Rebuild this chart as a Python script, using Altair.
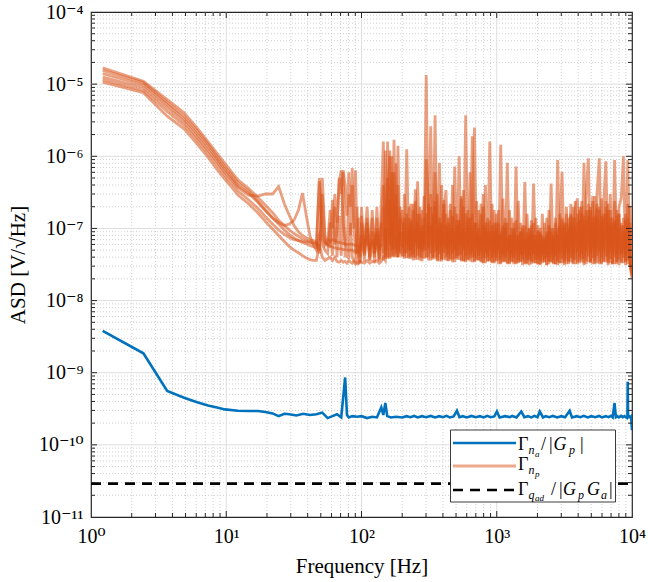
import altair as alt
import pandas as pd

FONT = "Liberation Serif, Times New Roman, DejaVu Serif, serif"
W, H = 541, 505
PL, PT = 91, 12

# ---------------- data ----------------
# frequency grids [Hz]
f_low = [1.22, 2.44, 3.66, 4.88, 6.10, 7.32, 8.54, 9.77, 11.0, 12.2,
         14.6, 17.1, 19.5, 22.0, 24.4, 26.9, 29.3, 31.7, 34.2, 36.6,
         39.1, 41.5, 43.9, 46.4]
f_mid = [48.8, 51.3, 53.7, 56.2, 58.6, 61.0, 63.5, 65.9, 68.4, 70.8,
         73.2, 75.7, 78.1, 80.6, 83.0, 85.4, 87.9, 90.3, 92.8, 95.2,
         97.7, 100, 105, 110, 115, 120, 125, 130, 135, 140,
         145, 150, 156, 162, 168, 174, 180, 186, 193]
f_high = [200, 208, 216, 224, 232, 241, 250, 260, 270, 280,
          290, 301, 313, 325, 337, 350, 363, 377, 391, 406,
          421, 437, 454, 471, 489, 508, 527, 547, 568, 589,
          612, 635, 659, 684, 710, 737, 765, 794, 824, 856,
          888, 922, 957, 993, 1031, 1070, 1111, 1153, 1197, 1242,
          1289, 1338, 1389, 1442, 1497, 1554, 1613, 1674, 1738, 1804,
          1872, 1943, 2017, 2094, 2173, 2256, 2342, 2431, 2523, 2619,
          2718, 2822, 2929, 3040, 3156, 3276, 3400, 3529, 3663, 3803,
          3947, 4097, 4253, 4414, 4582, 4756, 4937, 5125, 5319, 5521,
          5731, 5949, 6175, 6410, 6653, 6906, 7169, 7441, 7724, 8017,
          8322, 8638, 8967, 9307, 9661, 10000]

# Gamma_np measurements, in units of 1e-8 V/sqrt(Hz)
np1_low = [1680, 1100, 610, 400, 245, 160, 110, 80, 60, 47,
           36, 27, 21, 16.5, 13, 11, 9.5, 8.5, 7.8, 7.2, 6.8, 6.5, 6.2, 6]
np2_low = [1550, 1050, 560, 360, 225, 148, 100, 72, 55, 43,
           33, 24, 18, 14, 11.5, 9.5, 8.2, 7.4, 6.8, 6.4, 6.1, 5.8, 5.6, 5.4]
np3_low = [1400, 980, 520, 330, 205, 135, 92, 66, 50, 39,
           31, 23, 17.5, 14, 12, 11, 11.5, 13, 18, 31, 15, 8, 6, 5]
np4_low = [1250, 900, 470, 300, 185, 122, 85, 60, 47, 37,
           29, 28, 30, 30, 38, 22, 15, 11, 9, 8, 7.4, 7, 6.8, 6.5]
np5_low = [1150, 820, 420, 270, 168, 110, 76, 54, 42, 33,
           25, 19, 14.5, 11.5, 9.5, 8.3, 7.5, 7, 6.8, 6.6, 6.5, 6.4, 6.3, 6.2]
np6_low = [1070, 760, 360, 240, 148, 97, 66, 48, 37, 29,
           22, 16.5, 12.5, 9.8, 8, 6.6, 5.6, 5, 4.6, 4.2, 3.9, 3.7, 3.6, 3.6]

np1_mid = [50, 8, 6.5, 6, 5.8, 25, 6, 9, 45, 64, 12, 6, 5.5, 30, 8, 69, 10, 5, 4.5, 14,
           4, 20, 4.2, 12, 4, 18, 4.5, 8, 3.8, 22, 160, 4, 30, 120, 5, 170, 4.5, 40, 5]
np2_mid = [45, 7, 6.2, 5.8, 5.6, 5.5, 5.4, 5.3, 5.2, 5.2, 5.1, 5.1, 5, 5, 5, 5, 4.8, 4.6, 5, 4.8,
           5, 6, 4.5, 14, 3.6, 9, 4, 20, 3.7, 10, 40, 3.8, 160, 4, 60, 4.2, 30, 4, 12]
np3_mid = [8, 6, 5, 4.5, 12, 4.2, 20, 4, 15, 4.2, 60, 4, 4.5, 3.8, 12, 4, 3.5, 3.4, 20, 3.3,
           3.4, 15, 3.5, 10, 3.6, 7, 3.4, 14, 3.5, 6, 3.6, 120, 3.8, 25, 4, 14, 80, 4, 20]
np4_mid = [5, 50, 8, 6, 18, 10, 30, 12, 50, 30, 64, 40, 15, 60, 20, 40, 10, 64, 6, 4,
           3.4, 12, 6, 20, 5, 14, 4.5, 10, 5, 12, 4.5, 10, 4, 100, 4.2, 60, 4, 140, 4.5]
np5_mid = [4.5, 30, 6, 7, 6.5, 7, 6.8, 6.5, 6.4, 6.3, 6.2, 6.1, 6, 6, 6.1, 6, 5.9, 5.8, 5.7, 5.6,
           5.6, 8, 5.5, 7, 5.4, 6.5, 5.3, 9, 5.2, 6, 20, 5, 50, 6, 12, 5.2, 8, 5, 9]
np6_mid = [6, 4, 3.6, 3.8, 4, 3.6, 4, 3.5, 3.4, 3.6, 3.4, 3.5, 3.3, 3.6, 3.4, 3.3, 3.5, 3.2, 3.4, 3.3,
           3.5, 3.4, 3.3, 3.6, 3.3, 3.5, 3.4, 3.6, 3.3, 3.5, 4, 3.6, 10, 3.8, 100, 4, 20, 4, 14]

np1_high = [4, 30, 4.5, 14, 3.8, 22, 4, 45, 3.6, 18,
            5, 1340, 4, 20, 3.7, 60, 4, 14, 3.5, 25,
            4, 12, 3.6, 40, 3.8, 16, 4.2, 28, 3.5, 370,
            3.7, 14, 4, 250, 3.6, 18, 3.4, 30, 3.8, 12,
            3.5, 22, 3.3, 10, 3.6, 144, 3.4, 12, 3.2, 18,
            3.5, 10, 3.3, 24, 3.4, 9, 3.2, 16, 3.6, 11,
            3.3, 14, 3.2, 9, 3.5, 12, 3.1, 18, 3.4, 10,
            3.2, 89, 3.3, 14, 3.5, 20, 3.2, 15, 3.6, 24,
            3.4, 18, 3.7, 81, 3.5, 22, 3.3, 28, 3.6, 19,
            3.4, 26, 3.5, 20, 3.3, 30, 3.2, 89, 3.4, 16,
            3.3, 14, 3.5, 22, 3.2, 2.0]
np2_high = [18, 3.8, 125, 4, 22, 3.6, 35, 4.2, 16, 3.5,
            28, 3.9, 12, 260, 4, 20, 3.6, 81, 3.8, 15,
            34, 3.5, 18, 3.7, 72, 3.9, 100, 3.6, 20, 3.4,
            14, 3.8, 190, 3.5, 24, 3.6, 16, 3.3, 40, 3.5,
            160, 3.4, 18, 3.6, 12, 3.3, 26, 3.5, 81, 3.2,
            14, 3.4, 72, 3.3, 12, 3.5, 44, 3.2, 10, 3.4,
            42, 3.3, 11, 3.2, 16, 3.4, 9, 3.5, 42, 3.2,
            14, 3.4, 10, 61, 3.3, 16, 3.5, 22, 3.2, 18,
            26, 3.5, 20, 3.3, 30, 94, 3.4, 24, 3.2, 32,
            94, 3.3, 22, 85, 3.5, 18, 3.2, 24, 3.4, 20,
            26, 100, 3.4, 89, 3.3, 2.5]
np3_high = [4.2, 12, 3.9, 20, 4.1, 9, 3.7, 16, 4, 11,
            3.8, 90, 3.6, 30, 3.9, 370, 3.5, 10, 3.7, 22,
            3.6, 9, 3.8, 15, 3.4, 11, 3.7, 26, 3.5, 9,
            3.6, 60, 3.4, 12, 3.7, 10, 3.5, 20, 3.3, 9,
            3.6, 11, 3.4, 16, 3.2, 9, 3.5, 14, 3.3, 8,
            3.4, 12, 3.2, 8, 3.5, 11, 3.3, 9, 3.1, 13,
            3.4, 8, 3.2, 10, 3.3, 7.5, 3.1, 11, 3.4, 8,
            3.2, 10, 3.3, 13, 3.1, 12, 3.4, 16, 3.3, 14,
            3.2, 20, 3.4, 15, 3.2, 18, 3.5, 14, 3.3, 22,
            3.2, 15, 3.4, 24, 3.1, 14, 3.3, 12, 3.2, 16,
            3.4, 11, 3.1, 14, 3.3, 2.2]
np4_high = [9, 4.1, 16, 3.8, 12, 4, 24, 3.7, 10, 3.9,
            14, 4, 22, 3.6, 11, 3.8, 30, 3.5, 12, 3.7,
            16, 3.6, 10, 3.4, 20, 3.7, 12, 3.5, 34, 3.6,
            11, 3.5, 16, 3.4, 9, 3.6, 22, 3.3, 12, 3.5,
            13, 3.3, 9, 3.5, 18, 3.2, 10, 3.4, 12, 3.3,
            8, 3.2, 13, 3.4, 9, 3.1, 11, 3.3, 8, 3.2,
            12, 3.3, 9, 3.1, 8, 3.4, 14, 3.2, 9, 3.3,
            12, 3.1, 16, 3.3, 11, 3.2, 14, 3.4, 20, 3.2,
            16, 3.3, 24, 3.1, 18, 3.4, 20, 3.2, 28, 3.3,
            18, 3.2, 16, 3.4, 22, 3.3, 14, 3.2, 18, 3.1,
            12, 3.3, 16, 3.2, 20, 2.4]
np5_high = [5.5, 14, 6, 10, 5, 18, 6.5, 12, 5.2, 9,
            6, 16, 5.4, 11, 6.2, 24, 5, 12, 5.8, 9,
            5.3, 14, 6, 10, 5, 13, 5.7, 9, 5.1, 16,
            5.6, 10, 4.8, 12, 5.4, 8, 5, 11, 4.6, 14,
            5.2, 9, 4.7, 12, 5, 8, 4.5, 10, 4.8, 8,
            4.4, 9, 4.9, 7, 4.3, 10, 4.6, 7.5, 4.2, 9,
            4.5, 7, 4.1, 8.5, 4.4, 7, 4, 9, 4.3, 7.5,
            4.1, 8, 4.5, 10, 4.2, 9, 4.6, 12, 4.4, 10,
            4.8, 13, 4.5, 11, 5, 15, 4.7, 12, 5.2, 14,
            4.8, 12, 5, 16, 4.6, 11, 4.4, 13, 4.3, 10,
            4.5, 9, 4.2, 11, 4, 2.6]
np6_high = [11, 4.6, 8, 5, 13, 4.4, 10, 5.2, 20, 4.8,
            9, 5, 12, 4.5, 16, 4.7, 10, 4.4, 40, 4.6,
            11, 4.3, 22, 4.5, 9, 4.2, 13, 4.4, 10, 4.1,
            18, 4.3, 9, 4, 12, 4.2, 8, 3.9, 10, 4.1,
            9, 3.9, 12, 4, 8, 3.8, 11, 4, 7.5, 3.7,
            10, 3.9, 8, 3.6, 9, 3.8, 7, 3.7, 10, 3.6,
            8, 3.7, 9.5, 3.6, 7, 3.8, 8, 3.5, 10, 3.7,
            9, 3.6, 11, 3.8, 12, 3.6, 10, 3.9, 14, 3.7,
            12, 4, 16, 3.8, 13, 4.1, 18, 3.9, 15, 4.2,
            20, 4, 14, 4.1, 18, 3.8, 12, 4, 15, 3.7,
            11, 3.9, 13, 3.6, 12, 2.3]

# Gamma_na/|Gp|, in units of 1e-10 V/sqrt(Hz)
f_na = [1.22, 2.44, 3.66, 4.88, 6.10, 7.32, 8.54, 9.77, 12.2, 14.6,
        17.1, 19.5, 22.0, 24.4, 26.9, 29.3, 33.0, 37.0, 41.5, 46.4,
        51.3, 56.2, 61.0, 65.9, 70.8, 73.2, 75.7, 78.1, 80.6, 85.4,
        92.8, 100, 110, 120, 130, 140, 145, 150, 155, 165,
        180, 200, 215, 230, 245, 260, 280, 300, 325, 350,
        375, 400, 425, 450, 480, 508, 530, 560, 600, 650,
        700, 750, 800, 850, 900, 960, 1003, 1050, 1150, 1250,
        1300, 1400, 1520, 1600, 1700, 1800, 1900, 2000, 2080, 2200,
        2300, 2450, 2600, 2800, 3000, 3200, 3460, 3600, 3900, 4150,
        4400, 4700, 5000, 5350, 5700, 6000, 6400, 6700, 7000, 7200,
        7430, 7600, 7800, 8000, 8300, 8550, 8800, 9050, 9250, 9300,
        9350, 9500, 9700, 9850, 10000]
na_val = [38, 18.6, 5.6, 4.5, 3.9, 3.5, 3.3, 3.1, 2.97, 2.95,
          2.95, 2.85, 2.73, 2.5, 2.7, 2.65, 2.55, 2.7, 2.6, 2.65,
          2.8, 2.35, 2.5, 2.65, 2.4, 4.5, 8.6, 2.6, 2.4, 2.5,
          2.45, 2.5, 2.35, 2.45, 2.4, 3.3, 2.6, 3.8, 2.5, 2.4,
          2.45, 2.4, 2.5, 2.42, 2.52, 2.4, 2.5, 2.42, 2.52, 2.4,
          2.5, 2.42, 2.52, 2.4, 2.48, 2.97, 2.42, 2.5, 2.4, 2.52,
          2.42, 2.5, 2.4, 2.52, 2.42, 2.48, 2.9, 2.4, 2.5, 2.42,
          2.52, 2.4, 2.9, 2.42, 2.5, 2.4, 2.52, 2.42, 2.9, 2.4,
          2.5, 2.42, 2.52, 2.4, 2.5, 2.42, 2.97, 2.4, 2.5, 2.42,
          2.52, 2.4, 2.5, 2.42, 2.52, 2.4, 2.5, 2.42, 2.52, 2.4,
          3.8, 2.42, 2.5, 2.4, 2.52, 2.42, 2.5, 2.4, 2.48, 7.5,
          2.42, 2.5, 2.4, 2.48, 1.6]

# Gamma_qad/|Gp Ga| (constant)
f_q = [1, 10000]
q_val = [2.9e-11, 2.9e-11]

# ---------------- tables ----------------
curves = [(np1_low, np1_mid, np1_high), (np2_low, np2_mid, np2_high),
          (np3_low, np3_mid, np3_high), (np4_low, np4_mid, np4_high),
          (np5_low, np5_mid, np5_high), (np6_low, np6_mid, np6_high)]
f_all = f_low + f_mid + f_high
rows = []
for i, (lo, mi, hi) in enumerate(curves):
    vals = lo + mi + hi
    assert len(lo) == len(f_low) and len(mi) == len(f_mid) and len(hi) == len(f_high), (i, len(lo), len(mi), len(hi))
    for f, v in zip(f_all, vals):
        rows.append({"f": f, "v": v * 1e-8, "curve": f"np{i+1}"})
df_np = pd.DataFrame(rows)
assert len(f_na) == len(na_val), (len(f_na), len(na_val))
df_na = pd.DataFrame({"f": f_na, "v": [v * 1e-10 for v in na_val]})
df_q = pd.DataFrame({"f": f_q, "v": q_val})

# ---------------- scales / axes ----------------
xs = alt.Scale(type="log", domain=[1, 1e4], nice=False)
ys = alt.Scale(type="log", domain=[1e-11, 1e-4], nice=False)

x_axis = alt.Axis(values=[1, 10, 100, 1000, 10000],
                  labelExpr="'10' + ['⁰','¹','²','³','⁴'][round(log(datum.value)/LN10)]",
                  title="Frequency [Hz]", grid=False, ticks=False, domain=False,
                  labelFont=FONT, labelFontSize=20, labelColor="black", labelPadding=9,
                  labelFlush=False, labelOverlap=False,
                  titleFont=FONT, titleFontSize=21, titleFontWeight="normal",
                  titleColor="black", titlePadding=9)
y_axis = alt.Axis(values=[1e-11, 1e-10, 1e-9, 1e-8, 1e-7, 1e-6, 1e-5, 1e-4],
                  labelExpr="'10' + ['⁻¹¹','⁻¹⁰','⁻⁹','⁻⁸','⁻⁷','⁻⁶','⁻⁵','⁻⁴'][round(log(datum.value)/LN10)+11]",
                  title="ASD [V/√Hz]", grid=False, ticks=False, domain=False,
                  labelFont=FONT, labelFontSize=20, labelColor="black", labelPadding=8,
                  labelFlush=False, labelOverlap=False,
                  titleFont=FONT, titleFontSize=21, titleFontWeight="normal",
                  titleColor="black", titlePadding=10)


def X(field):
    return alt.X(field, type="quantitative", scale=xs, axis=x_axis)


def Y(field):
    return alt.Y(field, type="quantitative", scale=ys, axis=y_axis)


# grid / tick positions
x_major = [10, 100, 1000]
x_minor = [m * 10 ** k for k in range(0, 4) for m in range(2, 10)]
y_major = [1e-10, 1e-9, 1e-8, 1e-7, 1e-6, 1e-5]
y_minor = [m * 10.0 ** k for k in range(-11, -4) for m in range(2, 10)]
dxmaj = pd.DataFrame({"t": x_major})
dxmin = pd.DataFrame({"t": x_minor})
dymaj = pd.DataFrame({"t": y_major})
dymin = pd.DataFrame({"t": y_minor})

layers = []
# minor grid (dotted)
layers.append(alt.Chart(dxmin).mark_rule(color="#c4c4c4", strokeWidth=0.8, strokeDash=[1, 2]).encode(x=X("t")))
layers.append(alt.Chart(dymin).mark_rule(color="#c4c4c4", strokeWidth=0.8, strokeDash=[1, 2]).encode(y=Y("t")))
# major grid (solid)
layers.append(alt.Chart(dxmaj).mark_rule(color="#dedede", strokeWidth=1).encode(x=X("t")))
layers.append(alt.Chart(dymaj).mark_rule(color="#dedede", strokeWidth=1).encode(y=Y("t")))

# data
layers.append(alt.Chart(df_na).mark_line(color="#0072BD", strokeWidth=2.6, clip=True).encode(x=X("f"), y=Y("v")))
layers.append(alt.Chart(df_np).mark_line(color="#D95319", strokeWidth=2.8, opacity=0.55, clip=True).encode(
    x=X("f"), y=Y("v"), detail="curve:N"))
layers.append(alt.Chart(df_q).mark_line(color="black", strokeWidth=2.6, strokeDash=[10, 7], clip=True).encode(
    x=X("f"), y=Y("v")))

# inward ticks
TC = "#262626"
for d, L in ((dxmaj, 6), (dxmin, 4)):
    layers.append(alt.Chart(d).mark_rule(color=TC, strokeWidth=1).encode(x=X("t"), y=alt.value(H), y2=alt.value(H - L)))
    layers.append(alt.Chart(d).mark_rule(color=TC, strokeWidth=1).encode(x=X("t"), y=alt.value(0), y2=alt.value(L)))
for d, L in ((dymaj, 6), (dymin, 4)):
    layers.append(alt.Chart(d).mark_rule(color=TC, strokeWidth=1).encode(y=Y("t"), x=alt.value(0), x2=alt.value(L)))
    layers.append(alt.Chart(d).mark_rule(color=TC, strokeWidth=1).encode(y=Y("t"), x=alt.value(W), x2=alt.value(W - L)))

# ---------------- legend ----------------
one = pd.DataFrame({"k": [0]})
layers.append(alt.Chart(one).mark_rect(fill="white", stroke="#262626", strokeWidth=0.9).encode(
    x=alt.value(450.5 - PL), x2=alt.value(615.5 - PL), y=alt.value(430 - PT), y2=alt.value(502 - PT)))
layers.append(alt.Chart(one).mark_rule(color="#0072BD", strokeWidth=2.6).encode(
    x=alt.value(453 - PL), x2=alt.value(516 - PL), y=alt.value(443 - PT)))
layers.append(alt.Chart(one).mark_rule(color="#D95319", strokeWidth=2.8, opacity=0.5).encode(
    x=alt.value(453 - PL), x2=alt.value(516 - PL), y=alt.value(466 - PT)))
layers.append(alt.Chart(one).mark_rule(color="black", strokeWidth=2.6, strokeDash=[10, 7]).encode(
    x=alt.value(453 - PL), x2=alt.value(516 - PL), y=alt.value(490 - PT)))


def txt(s, x, y, size, italic=False):
    return alt.Chart(one).mark_text(text=s, font=FONT, fontSize=size, align="left", baseline="alphabetic",
                                    color="black", fontStyle="italic" if italic else "normal").encode(
        x=alt.value(x - PL), y=alt.value(y - PT))


pieces = [
    ("Γ", 518, 450, 18, False), ("n", 528.5, 454, 12, True), ("a", 535, 456.5, 9, True),
    ("/", 541, 450, 18, False), ("|", 549, 450, 18, False), ("G", 553.5, 450, 18, True),
    ("p", 569, 454, 12, True), ("|", 580, 450, 18, False),
    ("Γ", 518, 470, 18, False), ("n", 528.5, 474, 12, True), ("p", 535, 476.5, 9, True),
    ("Γ", 518, 495, 18, False), ("q", 528.5, 499, 12, True), ("ad", 535, 501, 9, True),
    ("/", 551, 495, 18, False), ("|", 559, 495, 18, False), ("G", 563, 495, 18, True),
    ("p", 578, 499, 12, True), ("G", 587, 495, 18, True), ("a", 601, 499, 12, True),
    ("|", 609, 495, 18, False),
]
for s, x, y, size, it in pieces:
    layers.append(txt(s, x, y, size, it))

chart = alt.layer(*layers).properties(
    width=W, height=H,
    padding={"left": PL, "top": PT, "right": 648 - PL - W, "bottom": 582 - PT - H},
    autosize=alt.AutoSizeParams(type="none"),
    background="white",
).configure_view(stroke="#262626", strokeWidth=1.2).configure_axis(
    labelFont=FONT, titleFont=FONT
).configure_text(font=FONT)

chart.save("out.html", embed_options={"renderer": "svg", "actions": False})
